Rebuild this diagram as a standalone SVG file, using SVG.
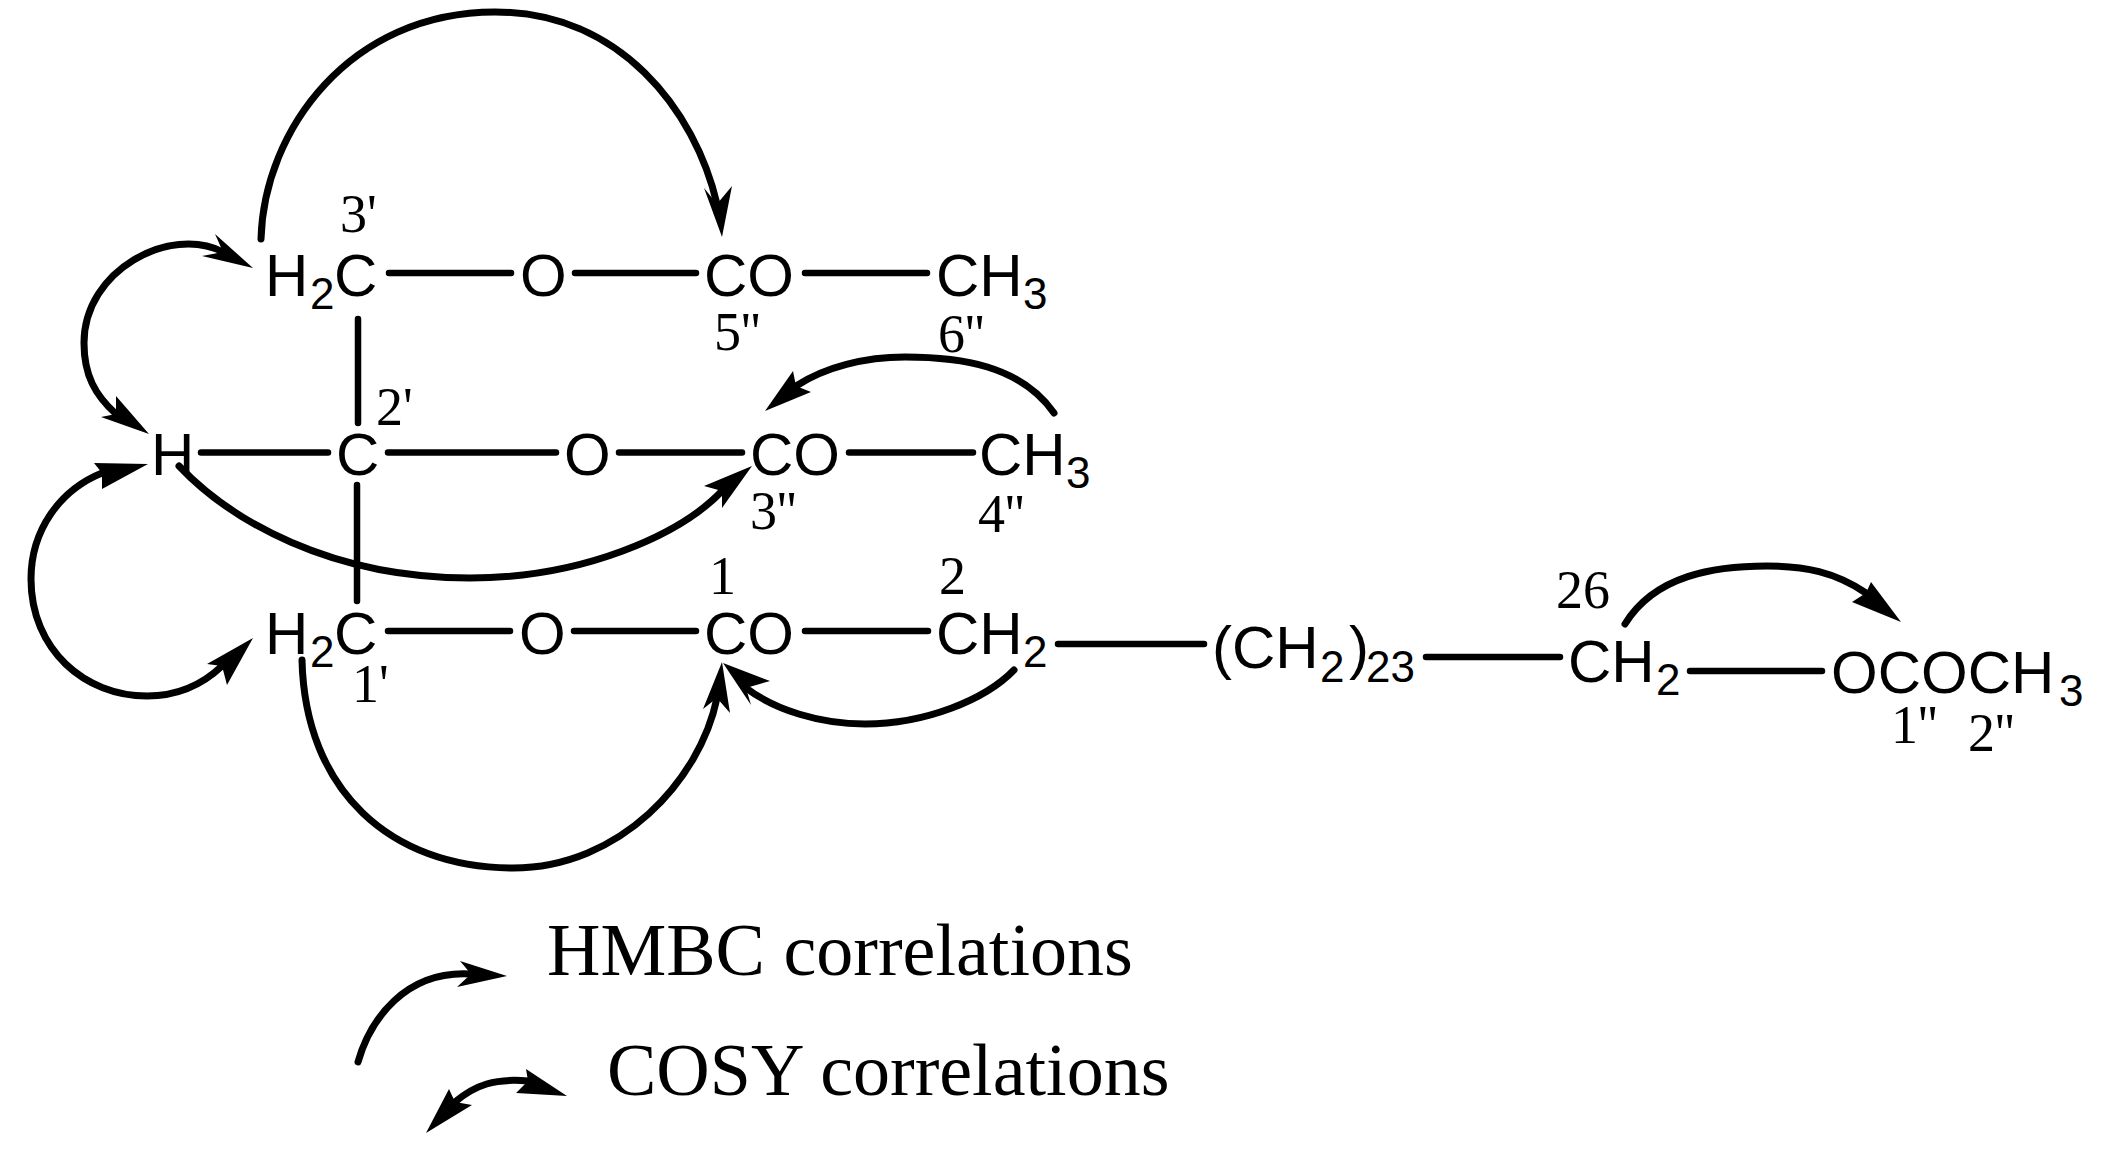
<svg xmlns="http://www.w3.org/2000/svg" width="2108" height="1158" viewBox="0 0 2108 1158">
<style>
.chem{font-family:"Liberation Sans",Arial,sans-serif;font-size:60px;fill:#000}
.sub{font-size:44px}
.num{font-family:"Liberation Serif","Times New Roman",serif;font-size:54px;fill:#000}
.leg{font-family:"Liberation Serif","Times New Roman",serif;font-size:74px;fill:#000}
.bond{stroke:#000;stroke-width:6.5;stroke-linecap:round;fill:none}
.curve{stroke:#000;stroke-width:7;stroke-linecap:round;fill:none}
.head{fill:#000;stroke:none}
</style>
<rect width="2108" height="1158" fill="#fff"/>
<g id="connectors">
<path class="bond" d="M389 273H511M575 273H696M805 273H927M358 319V423M201 452.5H328M388 452.5H556M619 452.5H742M849 452.5H973M357 485V601M388 631H510M574 631H696M805 631H928M1058 644H1204M1426 657H1560M1690 671H1822"/>
<path class="curve" d="M261 239C264 130 350 12 495 12C620 12 695 110 717 204"/>
<polygon class="head" points="722,237 704,188 717,204 732,186"/>
<path class="curve" d="M223 252C170 225 84 270 84 343C84 375 95 395 116 414"/>
<polygon class="head" points="253,268 215,234 223,252 202,256"/>
<polygon class="head" points="149,434 116,396 116,414 101,417"/>
<path class="curve" d="M1054 413C1020 365 960 357 905 357C865 357 825 367 796 386"/>
<polygon class="head" points="765,411 793,371 796,386 811,392"/>
<path class="curve" d="M179 466C230 520 330 578 470 578C583 578 680 535 722 491"/>
<polygon class="head" points="752,466 704,486 722,491 722,508"/>
<path class="curve" d="M102 473C60 490 31 530 31 579C31 650 85 696 147 696C177 696 202 685 222 666"/>
<polygon class="head" points="148,464 94,463 102,473 102,489"/>
<polygon class="head" points="253,638 207,664 222,666 227,685"/>
<path class="curve" d="M302 660C305 790 390 868 513 868C620 868 700 780 717 698"/>
<polygon class="head" points="722,662 703,709 717,698 730,713"/>
<path class="curve" d="M1014 670C985 700 925 724 865 724C820 724 775 710 746 688"/>
<polygon class="head" points="723,663 770,681 746,688 751,705"/>
<path class="curve" d="M1625 624C1655 575 1715 566 1767 566C1805 566 1835 572 1866 593"/>
<polygon class="head" points="1901,622 1871,582 1866,593 1852,602"/>
<path class="curve" d="M358 1062C370 1020 405 970 471 974"/>
<polygon class="head" points="507,976 460,961 471,974 457,987"/>
<path class="curve" d="M455 1102C475 1085 495 1078 528 1081"/>
<polygon class="head" points="567,1096 526,1069 528,1081 516,1093"/>
<polygon class="head" points="426,1133 449,1089 455,1102 472,1105"/>
</g>
<g id="n-h2c-3p"><text class="chem" y="296"><tspan x="265">H</tspan><tspan class="sub" x="310" y="309">2</tspan><tspan x="334" y="296">C</tspan></text><text class="num" x="340" y="232">3'</text></g>
<g id="n-o-top"><text class="chem" x="520" y="296">O</text></g>
<g id="n-co-5"><text class="chem" x="704" y="296">CO</text><text class="num" x="714" y="350">5''</text></g>
<g id="n-ch3-6"><text class="chem" y="296"><tspan x="936">CH</tspan><tspan class="sub" x="1023" y="309">3</tspan></text><text class="num" x="938" y="352">6''</text></g>
<g id="n-h"><text class="chem" x="151" y="475">H</text></g>
<g id="n-c-2p"><text class="chem" x="336" y="475">C</text><text class="num" x="376" y="425">2'</text></g>
<g id="n-o-mid"><text class="chem" x="564" y="475">O</text></g>
<g id="n-co-3"><text class="chem" x="750" y="475">CO</text><text class="num" x="750" y="529">3''</text></g>
<g id="n-ch3-4"><text class="chem" y="475"><tspan x="979">CH</tspan><tspan class="sub" x="1066" y="488">3</tspan></text><text class="num" x="978" y="532">4''</text></g>
<g id="n-h2c-1p"><text class="chem" y="654"><tspan x="265">H</tspan><tspan class="sub" x="310" y="667">2</tspan><tspan x="334" y="654">C</tspan></text><text class="num" x="352" y="702">1'</text></g>
<g id="n-o-bot"><text class="chem" x="519" y="654">O</text></g>
<g id="n-co-1"><text class="chem" x="704" y="654">CO</text><text class="num" x="709" y="594">1</text></g>
<g id="n-ch2-2"><text class="chem" y="654"><tspan x="936">CH</tspan><tspan class="sub" x="1023" y="667">2</tspan></text><text class="num" x="939" y="594">2</text></g>
<g id="n-ch2-23"><text class="chem" y="668"><tspan x="1212">(CH</tspan><tspan class="sub" x="1320" y="682">2</tspan><tspan x="1349" y="668">)</tspan><tspan class="sub" x="1366" y="682">23</tspan></text></g>
<g id="n-ch2-26"><text class="chem" y="682"><tspan x="1568">CH</tspan><tspan class="sub" x="1656" y="695">2</tspan></text><text class="num" x="1556" y="608">26</text></g>
<g id="n-ococh3"><text class="chem" y="693"><tspan x="1831">OCOCH</tspan><tspan class="sub" x="2059" y="706">3</tspan></text><text class="num" x="1891" y="743">1''</text><text class="num" x="1968" y="751">2''</text></g>
<g id="legend-hmbc"><text class="leg" x="547" y="975">HMBC correlations</text></g>
<g id="legend-cosy"><text class="leg" x="607" y="1095">COSY correlations</text></g>
</svg>
